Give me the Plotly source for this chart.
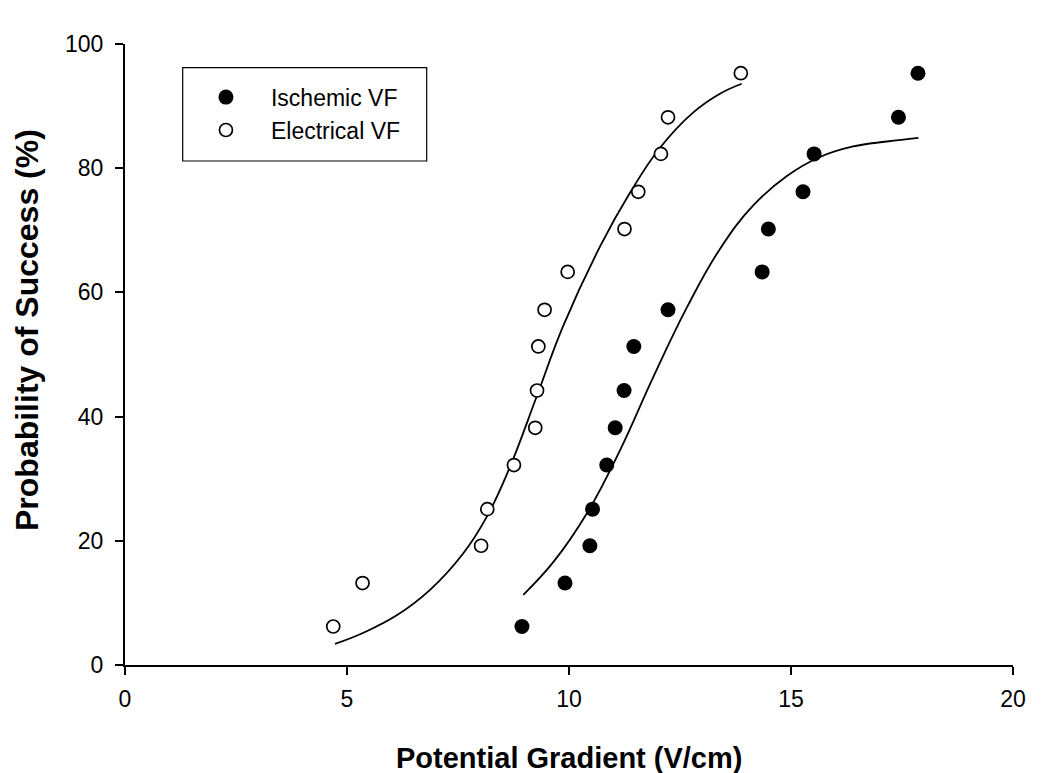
import plotly.graph_objects as go

# Data
isch_x = [8.94, 9.91, 10.47, 10.53, 10.85, 11.04, 11.24, 11.46, 12.23, 14.35, 14.49, 15.27, 15.52, 17.42, 17.86]
isch_y = [6.2, 13.2, 19.2, 25.1, 32.2, 38.2, 44.2, 51.3, 57.2, 63.3, 70.2, 76.2, 82.3, 88.2, 95.3]

elec_x = [4.69, 5.35, 8.02, 8.16, 8.76, 9.24, 9.28, 9.31, 9.45, 9.97, 11.25, 11.56, 12.07, 12.23, 13.87]
elec_y = [6.2, 13.2, 19.2, 25.1, 32.2, 38.2, 44.2, 51.3, 57.2, 63.3, 70.2, 76.2, 82.3, 88.2, 95.3]

# Fitted curves
elec_fit_x = [4.73, 5.37, 6.12, 6.87, 7.62, 8.15, 8.67, 9.27, 9.87, 10.70, 11.37, 12.05, 12.80, 13.40, 13.89]
elec_fit_y = [3.4, 5.2, 8.0, 12.1, 18.0, 23.9, 31.9, 43.2, 54.6, 67.4, 76.0, 83.3, 89.0, 92.0, 93.6]

isch_fit_x = [8.97, 9.65, 10.40, 11.15, 11.90, 12.65, 13.40, 14.15, 14.90, 15.65, 16.40, 17.16, 17.87]
isch_fit_y = [11.3, 16.6, 24.4, 34.6, 46.4, 57.5, 67.0, 74.0, 78.7, 81.8, 83.5, 84.3, 84.9]

x_ticks = [0, 5, 10, 15, 20]
y_ticks = [0, 20, 40, 60, 80, 100]

FONT = "Arial, Liberation Sans, sans-serif"

fig = go.Figure()

fig.add_trace(go.Scatter(
    x=isch_fit_x, y=isch_fit_y, mode="lines",
    line=dict(color="black", width=1.8, shape="spline", smoothing=1.2),
    showlegend=False, hoverinfo="skip"))
fig.add_trace(go.Scatter(
    x=elec_fit_x, y=elec_fit_y, mode="lines",
    line=dict(color="black", width=1.8, shape="spline", smoothing=1.2),
    showlegend=False, hoverinfo="skip"))

fig.add_trace(go.Scatter(
    x=isch_x, y=isch_y, mode="markers", name="Ischemic VF",
    marker=dict(symbol="circle", size=15, color="black", line=dict(color="black", width=0))))
fig.add_trace(go.Scatter(
    x=elec_x, y=elec_y, mode="markers", name="Electrical VF",
    marker=dict(symbol="circle", size=13, color="white", line=dict(color="black", width=1.7))))

fig.update_layout(
    width=1042, height=765,
    margin=dict(l=117, r=37, t=36, b=108),
    paper_bgcolor="white", plot_bgcolor="white",
    font=dict(family=FONT, color="black", size=23),
    showlegend=True,
    legend=dict(
        x=0.063, y=0.949, xanchor="left", yanchor="top",
        bgcolor="rgba(0,0,0,0)", borderwidth=0,
        font=dict(size=23, family=FONT, color="black"),
        itemwidth=80, tracegroupgap=0,
    ),
    shapes=[dict(type="rect", xref="paper", yref="paper",
                 x0=(182.7 - 125) / 888, x1=(426.7 - 125) / 888,
                 y0=(665 - 161) / 621, y1=(665 - 67.7) / 621,
                 line=dict(color="black", width=1.2), fillcolor="rgba(0,0,0,0)")],
    annotations=[
        dict(text="<b>Potential Gradient (V/cm)</b>", xref="paper", yref="paper",
             x=0.5, y=(665 - 758) / 621, xanchor="center", yanchor="middle",
             showarrow=False, font=dict(size=29, family=FONT, color="black")),
        dict(text="<b>Probability of Success (%)</b>", xref="paper", yref="paper",
             x=(27 - 125) / 888, y=(665 - 330) / 621, xanchor="center", yanchor="middle",
             textangle=-90, showarrow=False, font=dict(size=32, family=FONT, color="black")),
    ],
)

fig.update_xaxes(range=[0, 20], tickvals=x_ticks, ticktext=[str(v) for v in x_ticks],
                 showline=True, linecolor="black", linewidth=2, ticks="outside", ticklen=8,
                 tickwidth=2, tickcolor="black", showgrid=False, zeroline=False,
                 tickfont=dict(size=23, family=FONT, color="black"), ticklabelstandoff=4)
fig.update_yaxes(range=[0, 100], tickvals=y_ticks, ticktext=[str(v) for v in y_ticks],
                 showline=True, linecolor="black", linewidth=2, ticks="outside", ticklen=8,
                 tickwidth=2, tickcolor="black", showgrid=False, zeroline=False,
                 tickfont=dict(size=23, family=FONT, color="black"), ticklabelstandoff=7)

fig.write_html("out.html")
